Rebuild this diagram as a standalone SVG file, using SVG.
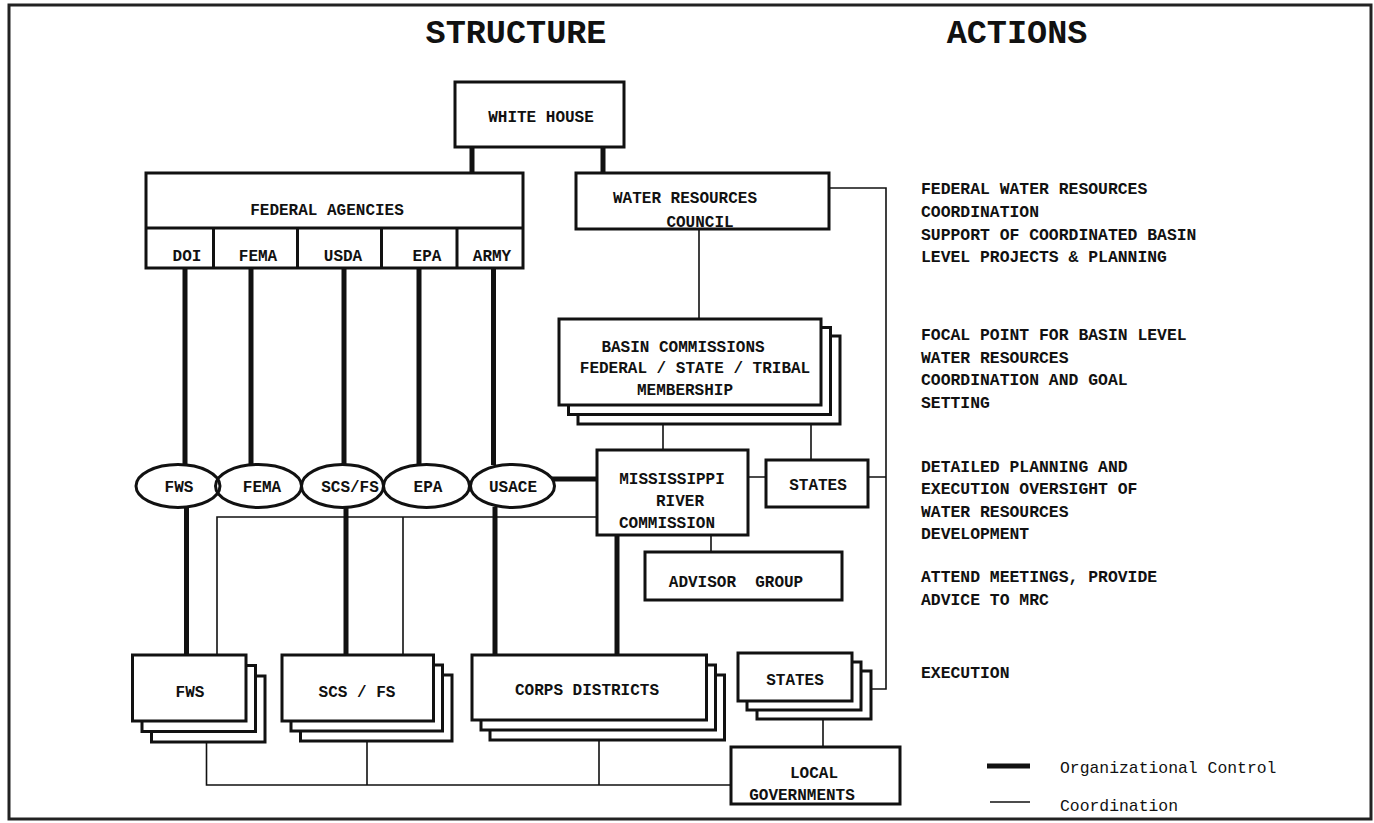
<svg xmlns="http://www.w3.org/2000/svg" width="1374" height="823" viewBox="0 0 1374 823">
<style>
.b{fill:#fff;stroke:#111;stroke-width:3}
.e{fill:none;stroke:#111;stroke-width:3}
.t{font-family:"Liberation Mono","Courier New",monospace;font-weight:bold;font-size:16px;fill:#111;text-anchor:middle}
.a{font-family:"Liberation Mono","Courier New",monospace;font-weight:bold;font-size:16.4px;fill:#111}
.l{font-family:"Liberation Mono","Courier New",monospace;font-size:16.4px;fill:#111}
.h{font-family:"Liberation Mono","Courier New",monospace;font-weight:bold;font-size:33.5px;fill:#111;text-anchor:middle}
.k{stroke:#111;stroke-width:5;fill:none}
.c{stroke:#111;stroke-width:1.6;fill:none}
</style>
<rect x="0" y="0" width="1374" height="823" fill="#fff"/>
<rect x="9" y="5" width="1362" height="814" fill="none" stroke="#222" stroke-width="3"/>
<text class="h" x="516" y="43">STRUCTURE</text>
<text class="h" x="1017" y="43">ACTIONS</text>

<g id="connectors">
<path class="k" d="M472 147V173M603 147V173M185 268V465M251 268V465M344 268V465M419 268V465M493.5 268V465M186.5 507V655M346 507V655M495 507V655M552 479H597M617 535V655"/>
<path class="c" d="M829 188H886V689H870M868 477H886M748 477H766M699 229V319M663 424V450M811 424V460M711 535V552M217 655V517H597M403 517V655M206.5 742V785H731M367 741V785M599 740V785M823 720V747"/>
</g>

<g id="white-house"><rect class="b" x="455" y="82" width="169" height="65"/><text class="t" x="541" y="122">WHITE HOUSE</text></g>
<g id="federal-agencies">
<rect class="b" x="146" y="173" width="377" height="95"/>
<path class="e" d="M146 228H523M213.5 228V268M297.5 228V268M381.5 228V268M457 228V268"/>
<text class="t" x="327" y="214.5">FEDERAL AGENCIES</text>
<text class="t" x="187" y="261">DOI</text>
<text class="t" x="258" y="261">FEMA</text>
<text class="t" x="343" y="261">USDA</text>
<text class="t" x="427" y="261">EPA</text>
<text class="t" x="492" y="261">ARMY</text>
</g>
<g id="water-resources-council"><rect class="b" x="576" y="173" width="253" height="56"/><text class="t" x="685" y="203">WATER RESOURCES</text><text class="t" x="700" y="227">COUNCIL</text></g>
<g id="basin-commissions">
<rect class="b" x="578" y="336" width="262" height="88"/>
<rect class="b" x="568.5" y="327.5" width="262" height="87"/>
<rect class="b" x="559" y="319" width="262" height="86"/>
<text class="t" x="683" y="352">BASIN COMMISSIONS</text>
<text class="t" x="695" y="373">FEDERAL / STATE / TRIBAL</text>
<text class="t" x="685" y="395">MEMBERSHIP</text>
</g>
<g id="mrc"><rect class="b" x="597" y="450" width="151" height="85"/><text class="t" x="672" y="484">MISSISSIPPI</text><text class="t" x="680" y="506">RIVER</text><text class="t" x="667" y="528">COMMISSION</text></g>
<g id="states-mid"><rect class="b" x="766" y="460" width="102" height="47"/><text class="t" x="818" y="490">STATES</text></g>
<g id="advisor-group"><rect class="b" x="645" y="552" width="197" height="48"/><text class="t" x="736" y="587" xml:space="preserve">ADVISOR  GROUP</text></g>

<g id="ellipse-fws"><ellipse class="e" cx="178" cy="486" rx="42" ry="21.5"/><text class="t" x="179" y="491.5">FWS</text></g>
<g id="ellipse-fema"><ellipse class="e" cx="258.5" cy="486" rx="43" ry="21.5"/><text class="t" x="262" y="491.5">FEMA</text></g>
<g id="ellipse-scs"><ellipse class="e" cx="342.5" cy="486" rx="41" ry="21.5"/><text class="t" x="350" y="491.5">SCS/FS</text></g>
<g id="ellipse-epa"><ellipse class="e" cx="426.5" cy="486" rx="43" ry="21.5"/><text class="t" x="428" y="491.5">EPA</text></g>
<g id="ellipse-usace"><ellipse class="e" cx="512.5" cy="486" rx="42" ry="21.5"/><text class="t" x="513" y="491.5">USACE</text></g>

<g id="fws">
<rect class="b" x="151.5" y="676" width="113.5" height="66"/>
<rect class="b" x="142" y="665.5" width="113.5" height="66"/>
<rect class="b" x="132.5" y="655" width="113.5" height="66"/>
<text class="t" x="190" y="697">FWS</text>
</g>
<g id="scs-fs">
<rect class="b" x="300.5" y="675" width="151.5" height="66"/>
<rect class="b" x="291" y="665" width="151.5" height="66"/>
<rect class="b" x="282" y="655" width="151.5" height="66"/>
<text class="t" x="357" y="697">SCS / FS</text>
</g>
<g id="corps-districts">
<rect class="b" x="490" y="675" width="234.5" height="65"/>
<rect class="b" x="481" y="665" width="234.5" height="65"/>
<rect class="b" x="472" y="655" width="234.5" height="65"/>
<text class="t" x="587" y="695">CORPS DISTRICTS</text>
</g>
<g id="states-bottom">
<rect class="b" x="757" y="671" width="114" height="48"/>
<rect class="b" x="747" y="662" width="114" height="48"/>
<rect class="b" x="738" y="653" width="114" height="48"/>
<text class="t" x="795" y="685">STATES</text>
</g>
<g id="local-governments"><rect class="b" x="731" y="747" width="169" height="57"/><text class="t" x="814" y="778">LOCAL</text><text class="t" x="802" y="800">GOVERNMENTS</text></g>

<g id="actions">
<text class="a" x="921" y="194">FEDERAL WATER RESOURCES</text>
<text class="a" x="921" y="217">COORDINATION</text>
<text class="a" x="921" y="240">SUPPORT OF COORDINATED BASIN</text>
<text class="a" x="921" y="262">LEVEL PROJECTS &amp; PLANNING</text>
<text class="a" x="921" y="340">FOCAL POINT FOR BASIN LEVEL</text>
<text class="a" x="921" y="363">WATER RESOURCES</text>
<text class="a" x="921" y="385">COORDINATION AND GOAL</text>
<text class="a" x="921" y="408">SETTING</text>
<text class="a" x="921" y="472">DETAILED PLANNING AND</text>
<text class="a" x="921" y="494">EXECUTION OVERSIGHT OF</text>
<text class="a" x="921" y="517">WATER RESOURCES</text>
<text class="a" x="921" y="539">DEVELOPMENT</text>
<text class="a" x="921" y="582">ATTEND MEETINGS, PROVIDE</text>
<text class="a" x="921" y="605">ADVICE TO MRC</text>
<text class="a" x="921" y="678">EXECUTION</text>
</g>

<g id="legend">
<path class="k" d="M987 766H1030"/>
<path class="c" d="M990 802H1030"/>
<text class="l" x="1060" y="773">Organizational Control</text>
<text class="l" x="1060" y="811">Coordination</text>
</g>
</svg>
